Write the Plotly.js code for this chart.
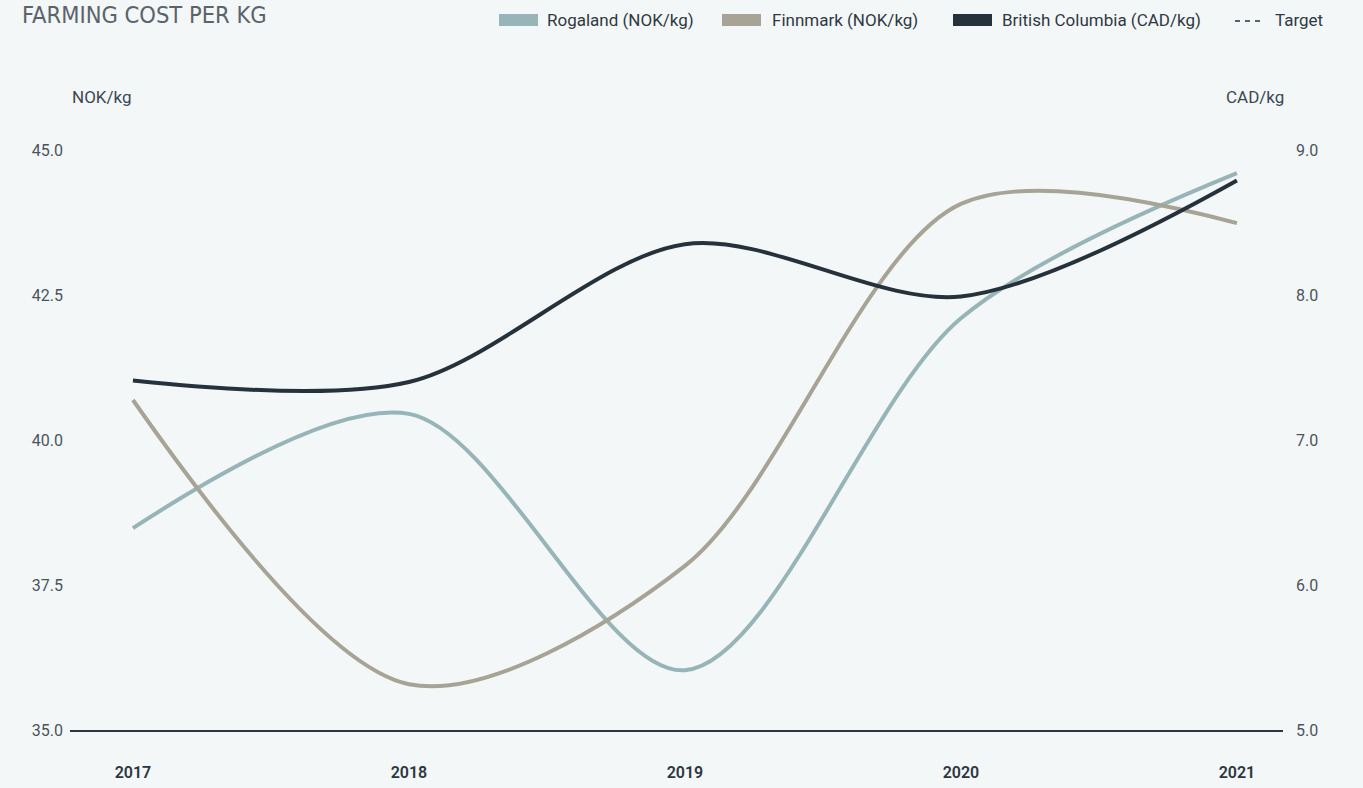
<!DOCTYPE html>
<html>
<head>
<meta charset="utf-8">
<script src="https://cdn.plot.ly/plotly-3.0.1.min.js"></script>
<style>
  html, body { margin: 0; padding: 0; background: #f3f7f8; }
  #chart { width: 1363px; height: 788px; }
</style>
</head>
<body>
<div id="chart"></div>
<script>
// ---- data ----
const years = [2017, 2018, 2019, 2020, 2021];
const rogaland = [38.48, 40.45, 36.03, 42.1, 44.6];          // NOK/kg
const finnmark = [40.69, 35.79, 37.83, 44.07, 43.74];        // NOK/kg
const britishColumbia = [7.41, 7.40, 8.35, 7.99, 8.79];      // CAD/kg
const leftTicks = [35, 37.5, 40, 42.5, 45];
const rightTicks = [5, 6, 7, 8, 9];
const seriesNames = ['Rogaland (NOK/kg)', 'Finnmark (NOK/kg)', 'British Columbia (CAD/kg)', 'Target'];

// ---- styling ----
const colors = { rog: '#97b5b8', fin: '#a7a496', bc: '#26323b', text: '#3d4750', bg: '#f3f7f8' };
const plotL = 70, plotR = 1283, plotT = 150, plotB = 730;
const W = 1363, H = 788;
const px2x = p => (p - plotL) / (plotR - plotL);
const px2y = p => (plotB - p) / (plotB - plotT);

const baseFont = 'Roboto, "DejaVu Sans", sans-serif';
const smooth = 0.9;

const traces = [
  { x: years, y: rogaland, name: seriesNames[0], type: 'scatter', mode: 'lines',
    line: { color: colors.rog, width: 4, shape: 'spline', smoothing: smooth }, yaxis: 'y', showlegend: false },
  { x: years, y: finnmark, name: seriesNames[1], type: 'scatter', mode: 'lines',
    line: { color: colors.fin, width: 4, shape: 'spline', smoothing: smooth }, yaxis: 'y', showlegend: false },
  { x: years, y: britishColumbia, name: seriesNames[2], type: 'scatter', mode: 'lines',
    line: { color: colors.bc, width: 4, shape: 'spline', smoothing: smooth }, yaxis: 'y2', showlegend: false }
];

// custom legend (boxes + dashed line + text)
const legendItems = [
  { sx0: 499, sx1: 538, tx: 545, color: colors.rog, label: seriesNames[0], kind: 'box' },
  { sx0: 722, sx1: 761, tx: 770, color: colors.fin, label: seriesNames[1], kind: 'box' },
  { sx0: 953, sx1: 992, tx: 1000, color: colors.bc, label: seriesNames[2], kind: 'box' },
  { sx0: 1235, sx1: 1265, tx: 1273, color: colors.bc, label: seriesNames[3], kind: 'dash' }
];
const shapes = [];
const annotations = [];
legendItems.forEach(it => {
  if (it.kind === 'box') {
    shapes.push({ type: 'rect', xref: 'paper', yref: 'paper',
      x0: px2x(it.sx0), x1: px2x(it.sx1), y0: px2y(26), y1: px2y(14),
      fillcolor: it.color, line: { width: 0 } });
  } else {
    shapes.push({ type: 'line', xref: 'paper', yref: 'paper',
      x0: px2x(it.sx0), x1: px2x(it.sx1), y0: px2y(21), y1: px2y(21),
      line: { color: it.color, width: 1.5, dash: '5px,5px' } });
  }
  annotations.push({ xref: 'paper', yref: 'paper', x: px2x(it.tx), y: px2y(20),
    xanchor: 'left', yanchor: 'middle', showarrow: false, text: it.label,
    font: { family: baseFont, size: 17, color: '#2f3942' } });
});
annotations.push({ xref: 'paper', yref: 'paper', x: px2x(70), y: px2y(97), xanchor: 'left', yanchor: 'middle',
  showarrow: false, text: 'NOK/kg', font: { family: baseFont, size: 17, color: colors.text } });
annotations.push({ xref: 'paper', yref: 'paper', x: px2x(1286), y: px2y(97), xanchor: 'right', yanchor: 'middle',
  showarrow: false, text: 'CAD/kg', font: { family: baseFont, size: 17, color: colors.text } });

const layout = {
  width: W, height: H,
  paper_bgcolor: colors.bg, plot_bgcolor: colors.bg,
  margin: { l: plotL, r: W - plotR, t: plotT, b: H - plotB, pad: 0 },
  showlegend: false,
  title: { text: 'FARMING COST PER KG', x: 22 / W, xanchor: 'left', xref: 'container',
    y: 1 - 15 / H, yanchor: 'middle', yref: 'container',
    font: { family: '"Liberation Sans Narrow", "DejaVu Sans Condensed", "DejaVu Sans", sans-serif', size: 23.5, color: '#5b636b' } },
  xaxis: {
    range: [2016.772, 2021.167], tickvals: years, ticktext: years.map(String),
    showgrid: false, zeroline: false, showline: true, linecolor: '#2c3640', linewidth: 2,
    ticks: '', ticklabelstandoff: 27,
    tickfont: { family: baseFont, size: 16, color: '#2c3640', weight: 600 }
  },
  yaxis: {
    range: [35, 45], tickvals: leftTicks, tickformat: '.1f',
    showgrid: false, zeroline: false, showline: false, ticks: '', ticklabelstandoff: 6,
    tickfont: { family: baseFont, size: 16, color: '#4a545d' }
  },
  yaxis2: {
    range: [5, 9], tickvals: rightTicks, tickformat: '.1f', overlaying: 'y', side: 'right',
    showgrid: false, zeroline: false, showline: false, ticks: '', ticklabelstandoff: 12,
    tickfont: { family: baseFont, size: 16, color: '#4a545d' }
  },
  shapes: shapes,
  annotations: annotations
};

Plotly.newPlot('chart', traces, layout, { displayModeBar: false, staticPlot: true });
</script>
</body>
</html>
